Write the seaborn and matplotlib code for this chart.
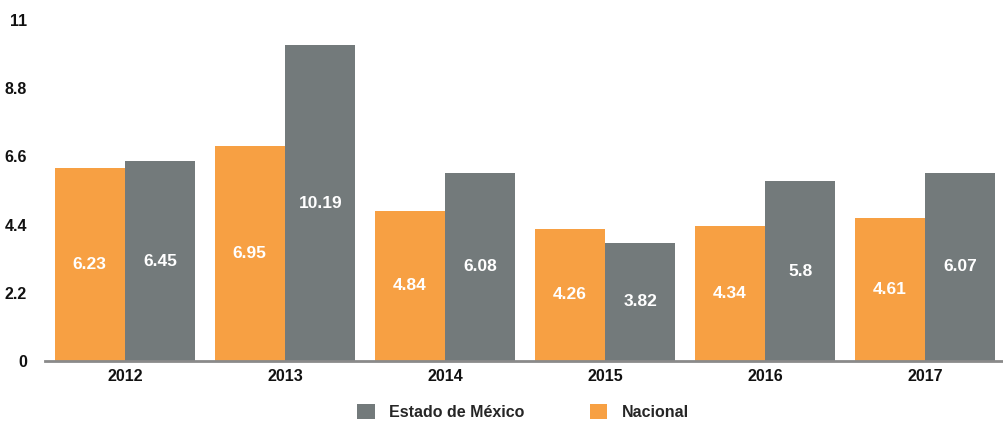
import matplotlib
matplotlib.use("Agg")
import matplotlib.pyplot as plt
from matplotlib.patches import Patch
import seaborn as sns
import pandas as pd

years = ["2012", "2013", "2014", "2015", "2016", "2017"]
nacional = [6.23, 6.95, 4.84, 4.26, 4.34, 4.61]
edomex = [6.45, 10.19, 6.08, 3.82, 5.8, 6.07]
series_names = ["Nacional", "Estado de México"]
y_ticks = [0, 2.2, 4.4, 6.6, 8.8, 11]

orange = "#F7A043"
gray = "#737A7B"

sns.set_theme(style="white")
plt.rcParams["font.family"] = ["Liberation Sans", "DejaVu Sans"]

df = pd.DataFrame({
    "year": years * 2,
    "value": nacional + edomex,
    "serie": [series_names[0]] * len(years) + [series_names[1]] * len(years),
})

fig = plt.figure(figsize=(10.04, 4.22), dpi=100)
ax = fig.add_axes([45 / 1004, 61 / 422, 960 / 1004, 341 / 422])

sns.barplot(data=df, x="year", y="value", hue="serie", order=years,
            hue_order=series_names, palette=[orange, gray], width=0.88,
            saturation=1, linewidth=0, edgecolor="none", ax=ax, legend=False)

for container, vals in zip(ax.containers, [nacional, edomex]):
    for bar, v in zip(container, vals):
        ax.text(bar.get_x() + bar.get_width() / 2, v / 2, f"{v:g}",
                ha="center", va="center", color="white",
                fontsize=12.5, fontweight="bold")

ax.set_ylim(0, 11)
ax.set_xlim(-0.5, 5.5)
ax.set_yticks(y_ticks)
ax.set_yticklabels([f"{t:g}" for t in y_ticks])
ax.set_xlabel("")
ax.set_ylabel("")
for s in ["top", "right", "left"]:
    ax.spines[s].set_visible(False)
ax.spines["bottom"].set_color("#8a8a8a")
ax.spines["bottom"].set_linewidth(2)
ax.set_axisbelow(False)
ax.tick_params(axis="both", length=0, labelsize=11.5, colors="#111111")
ax.tick_params(axis="y", pad=13)
ax.tick_params(axis="x", pad=6)
for lbl in ax.get_xticklabels() + ax.get_yticklabels():
    lbl.set_fontweight("bold")

handles = [Patch(facecolor=gray, edgecolor="none"),
           Patch(facecolor=orange, edgecolor="none")]
fig.legend(handles, ["Estado de México", "Nacional"], loc="center",
           bbox_to_anchor=(523 / 1004, 1 - 412 / 422), ncol=2, frameon=False,
           handlelength=1.1, handleheight=1.1, handletextpad=0.9,
           columnspacing=4.1, prop={"weight": "bold", "size": 11.5})

fig.savefig("out.png", dpi=100)
